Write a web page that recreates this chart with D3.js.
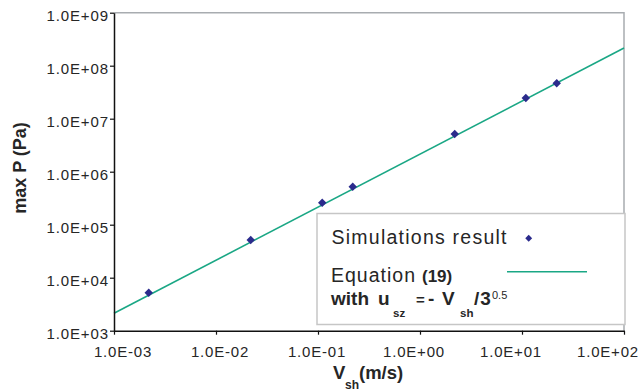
<!DOCTYPE html>
<html>
<head>
<meta charset="utf-8">
<script src="https://cdn.jsdelivr.net/npm/d3@7"></script>
<style>
  body { margin: 0; background: #fff; }
  svg { display: block; font-family: "Liberation Sans", Arial, sans-serif; }
</style>
</head>
<body>
<svg id="chart" width="640" height="392"></svg>
<script>
// simulation points
const simV = [2.19e-3, 2.19e-2, 1.10e-1, 2.19e-1, 2.19, 10.9, 21.9];
const simP = [5.2e3, 5.14e4, 2.6e5, 5.2e5, 5.14e6, 2.46e7, 4.66e7];

// equation (19) line, end points
const eqV = [1e-3, 1e2];
const eqP = [2.13e3, 2.16e8];

const xTicks = [1e-3, 1e-2, 1e-1, 1e0, 1e1, 1e2];
const yTicks = [1e3, 1e4, 1e5, 1e6, 1e7, 1e8, 1e9];

const plot = { left: 114, right: 624, top: 12.7, bottom: 330.7 };
const LINE_COLOR = "#1aa785";
const MARK_COLOR = "#2b2b8c";
const TEXT_COLOR = "#262626";
const FONT = "'Liberation Sans', Arial, sans-serif";

const svg = d3.select("#chart");

const x = d3.scaleLog().domain([1e-3, 1e2]).range([plot.left, plot.right]);
const y = d3.scaleLog().domain([1e3, 1e9]).range([plot.bottom, plot.top]);
// the tick labels in the original are spaced a bit tighter than the ticks
const xLabel = d3.scaleLog().domain([1e-3, 1e2]).range([122.5, 607.5]);

const sci = d => {
  const e = Math.round(Math.log10(d));
  const m = d / Math.pow(10, e);
  return m.toFixed(1) + "E" + (e < 0 ? "-" : "+") + String(Math.abs(e)).padStart(2, "0");
};

// top / right frame
svg.append("path")
  .attr("d", `M${plot.left},${plot.top}H${plot.right}V${plot.bottom}`)
  .attr("fill", "none")
  .attr("stroke", "#a8acb0")
  .attr("stroke-width", 1.5);

// equation line
const line = d3.line().x(d => x(d[0])).y(d => y(d[1]));
svg.append("path")
  .datum(eqV.map((v, i) => [v, eqP[i]]))
  .attr("d", line)
  .attr("fill", "none")
  .attr("stroke", LINE_COLOR)
  .attr("stroke-width", 1.6);

// simulation markers (diamonds)
const diamond = d3.symbol().type(d3.symbolSquare).size(36);
svg.append("g")
  .selectAll("path")
  .data(simV.map((v, i) => [v, simP[i]]))
  .join("path")
  .attr("d", diamond)
  .attr("transform", d => `translate(${x(d[0])},${y(d[1])}) rotate(45)`)
  .attr("fill", MARK_COLOR);

// axes
const yAxis = d3.axisLeft(y).tickValues(yTicks).tickFormat(sci).tickSize(4).tickSizeOuter(0);
const gy = svg.append("g")
  .attr("transform", `translate(${plot.left},0)`)
  .call(yAxis)
  .attr("font-size", 15)
  .attr("font-family", FONT);
gy.select(".domain").attr("stroke", "#111").attr("stroke-width", 1.5);
gy.selectAll(".tick line").attr("stroke", "#111").attr("stroke-width", 1.2);
gy.selectAll(".tick text")
  .attr("x", -5)
  .attr("dy", null)
  .attr("y", 8)
  .attr("fill", TEXT_COLOR)
  .attr("letter-spacing", 0.9);

const xAxis = d3.axisBottom(x).tickValues(xTicks).tickFormat(sci).tickSize(4).tickSizeOuter(0);
const gx = svg.append("g")
  .attr("transform", `translate(0,${plot.bottom})`)
  .call(xAxis)
  .attr("font-size", 15)
  .attr("font-family", FONT);
gx.select(".domain").attr("stroke", "#111").attr("stroke-width", 1.5);
gx.selectAll(".tick line").attr("stroke", "#111").attr("stroke-width", 1.2);
gx.selectAll(".tick text")
  .attr("x", d => xLabel(d) - x(d))
  .attr("dy", null)
  .attr("y", 26)
  .attr("fill", TEXT_COLOR)
  .attr("letter-spacing", 0.8);

// axis titles
const xt = svg.append("text")
  .attr("x", 333)
  .attr("y", 378.5)
  .attr("fill", TEXT_COLOR)
  .attr("font-size", 18.5)
  .attr("font-weight", "bold");
xt.append("tspan").text("V");
xt.append("tspan").attr("x", 345).attr("y", 388.5).attr("font-size", 12).text("sh");
xt.append("tspan").attr("x", 359).attr("y", 378.5).text("(m/s)");

svg.append("text")
  .attr("transform", "translate(26,168) rotate(-90)")
  .attr("text-anchor", "middle")
  .attr("fill", TEXT_COLOR)
  .attr("font-size", 18)
  .attr("font-weight", "bold")
  .text("max P (Pa)");

// legend
const lg = svg.append("g");
lg.append("rect")
  .attr("x", 317).attr("y", 213.5)
  .attr("width", 308).attr("height", 111)
  .attr("fill", "#fff")
  .attr("stroke", "#c6c6c6")
  .attr("stroke-width", 1.5);

lg.append("text")
  .attr("x", 331.5).attr("y", 244)
  .attr("fill", TEXT_COLOR)
  .attr("textLength", 175)
  .attr("lengthAdjust", "spacing")
  .attr("font-size", 19.5)
  .text("Simulations result");

lg.append("path")
  .attr("d", d3.symbol().type(d3.symbolSquare).size(24))
  .attr("transform", "translate(528.7,238.3) rotate(45)")
  .attr("fill", MARK_COLOR);

const eqText = lg.append("text")
  .attr("x", 331).attr("y", 281.5)
  .attr("fill", TEXT_COLOR)
  .attr("font-size", 19.5);
eqText.append("tspan").attr("textLength", 84).attr("lengthAdjust", "spacing").text("Equation");
eqText.append("tspan").attr("x", 422).attr("font-size", 17).attr("font-weight", "bold").text("(19)");

lg.append("line")
  .attr("x1", 507).attr("x2", 587)
  .attr("y1", 271.7).attr("y2", 271.7)
  .attr("stroke", LINE_COLOR)
  .attr("stroke-width", 1.6);

const w = lg.append("text")
  .attr("y", 305)
  .attr("fill", TEXT_COLOR)
  .attr("font-size", 19)
  .attr("font-weight", "bold");
w.append("tspan").attr("x", 331).text("with");
w.append("tspan").attr("x", 378).text("u");
w.append("tspan").attr("x", 393).attr("y", 316.7).attr("font-size", 11.5).text("sz");
w.append("tspan").attr("x", 416).attr("y", 305).attr("font-size", 15).text("=");
w.append("tspan").attr("x", 428).text("-");
w.append("tspan").attr("x", 442).text("V");
w.append("tspan").attr("x", 460).attr("y", 316.7).attr("font-size", 11.5).text("sh");
w.append("tspan").attr("x", 474).attr("y", 305).attr("letter-spacing", 1).text("/3");
w.append("tspan").attr("x", 492).attr("y", 299).attr("font-size", 11).attr("font-weight", "normal").text("0.5");
</script>
</body>
</html>
